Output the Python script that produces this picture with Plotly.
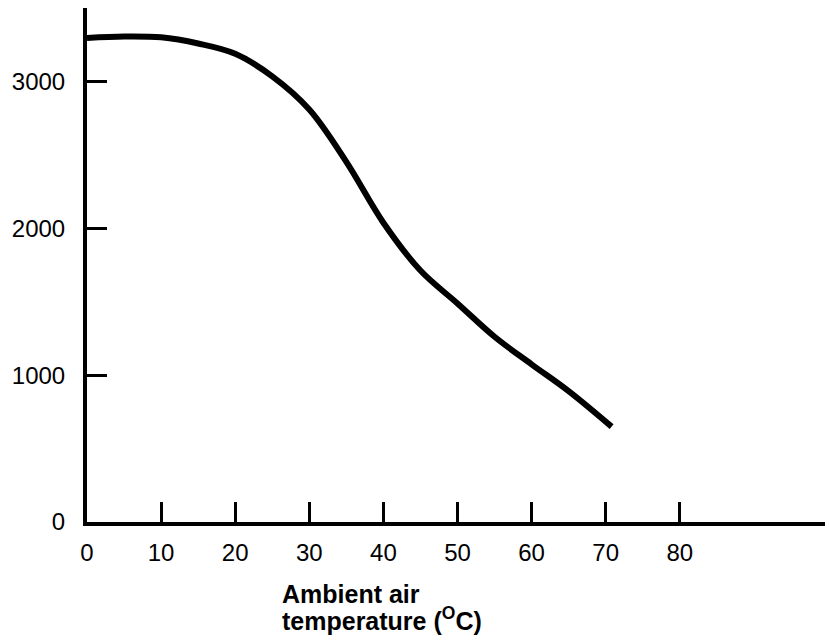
import plotly.graph_objects as go

temperature = [0, 5, 10, 15, 20, 25, 30, 35, 40, 45, 50, 55, 60, 65, 70.8]
value = [3300, 3310, 3304, 3262, 3192, 3038, 2812, 2455, 2040, 1714, 1490, 1263, 1075, 892, 650]

x_ticks = [0, 10, 20, 30, 40, 50, 60, 70, 80]
y_ticks = [0, 1000, 2000, 3000]

font_family = "Liberation Sans"

fig = go.Figure()
fig.add_trace(go.Scatter(
    x=temperature, y=value, mode="lines",
    line=dict(color="black", width=6, shape="spline", smoothing=1.0),
    hoverinfo="skip", showlegend=False,
))

fig.update_layout(
    width=829, height=641,
    margin=dict(l=87, r=4, t=8, b=119),
    paper_bgcolor="white", plot_bgcolor="white",
    font=dict(family=font_family, color="black", size=24),
    xaxis=dict(
        range=[0, 99.6], tickvals=x_ticks, ticktext=[str(v) for v in x_ticks],
        showgrid=False, zeroline=False, showline=True, linecolor="black", linewidth=4,
        ticks="inside", ticklen=20, tickwidth=3, tickcolor="black",
        ticklabelstandoff=6, tickfont=dict(size=24),
    ),
    yaxis=dict(
        range=[0, 3504], tickvals=y_ticks, ticktext=[str(v) for v in y_ticks],
        showgrid=False, zeroline=False, showline=True, linecolor="black", linewidth=4,
        ticks="inside", ticklen=20, tickwidth=3, tickcolor="black",
        ticklabelstandoff=13, tickfont=dict(size=24),
    ),
    annotations=[
        dict(text="<b>Ambient air</b>", xref="paper", yref="paper",
             x=(280 - 87) / 738, y=(522 - 594) / 514, xanchor="left", yanchor="middle",
             showarrow=False, font=dict(size=25, family=font_family)),
        dict(text="<b>temperature (<sup>O</sup>C)</b>", xref="paper", yref="paper",
             x=(280 - 87) / 738, y=(522 - 619) / 514, xanchor="left", yanchor="middle",
             showarrow=False, font=dict(size=25, family=font_family)),
    ],
)

fig.write_html("out.html")
